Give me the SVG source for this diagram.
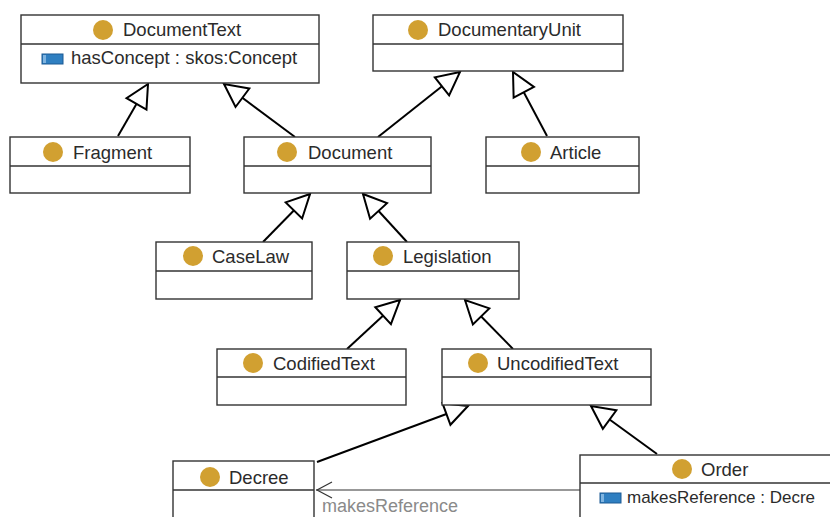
<svg xmlns="http://www.w3.org/2000/svg" width="830" height="517" viewBox="0 0 830 517">
<style>
.box{fill:#fff;stroke:#333;stroke-width:1.4}
.div{stroke:#333;stroke-width:1.4}
.dot{fill:#d1a031}
.lbl{font-family:"Liberation Sans",Arial,sans-serif;font-size:18.5px;fill:#2b2b2b}
.gen{stroke:#000;stroke-width:2;fill:none;marker-end:url(#tri)}
.assoc{stroke:#333;stroke-width:1.2;fill:none}
.alabel{font-family:"Liberation Sans",Arial,sans-serif;font-size:18px;fill:#8a8a8a}
.attr{fill:#2f7fc1;stroke:#1d5a93;stroke-width:1}
</style>
<defs>
<marker id="tri" markerUnits="userSpaceOnUse" viewBox="-2 -2 27 27" markerWidth="27" markerHeight="27" refX="23" refY="11.5" orient="auto">
<path d="M23,11.5 L0,0 L0,23 Z" fill="#fff" stroke="#000" stroke-width="2" stroke-linejoin="miter"/>
</marker>
</defs>
<rect width="830" height="517" fill="#fff"/>

<g id="connectors">
<line class="gen" x1="118" y1="136" x2="148" y2="84"/>
<line class="gen" x1="295" y1="137" x2="224" y2="84"/>
<line class="gen" x1="378" y1="137" x2="460" y2="72"/>
<line class="gen" x1="547" y1="136" x2="513" y2="72"/>
<line class="gen" x1="263" y1="242" x2="310" y2="194"/>
<line class="gen" x1="407" y1="242" x2="363" y2="194"/>
<line class="gen" x1="347" y1="349" x2="400" y2="300"/>
<line class="gen" x1="513" y1="349" x2="465" y2="300"/>
<line class="gen" x1="317" y1="462" x2="468" y2="406"/>
<line class="gen" x1="657" y1="454" x2="591" y2="406"/>
<g id="assoc-makesReference">
<line class="assoc" x1="580" y1="490" x2="316" y2="490"/>
<polyline class="assoc" points="332,482 317,490 332,498"/>
<text class="alabel" x="322" y="512">makesReference</text>
</g>
</g>

<g id="DocumentText">
<rect class="box" x="21" y="15" width="298" height="68"/>
<line class="div" x1="21" y1="44" x2="319" y2="44"/>
<circle class="dot" cx="103" cy="30" r="10"/>
<text class="lbl" x="123" y="36">DocumentText</text>
<rect class="attr" x="42" y="54" width="21" height="10"/>
<rect x="43" y="55" width="3" height="8" fill="#7fb4e0"/>
<text class="lbl" x="71" y="64">hasConcept : skos:Concept</text>
</g>

<g id="DocumentaryUnit">
<rect class="box" x="373" y="15" width="250" height="56"/>
<line class="div" x1="373" y1="44" x2="623" y2="44"/>
<circle class="dot" cx="418" cy="30" r="10"/>
<text class="lbl" x="438" y="36">DocumentaryUnit</text>
</g>

<g id="Fragment">
<rect class="box" x="10" y="137" width="180" height="56"/>
<line class="div" x1="10" y1="166" x2="190" y2="166"/>
<circle class="dot" cx="53" cy="152" r="10"/>
<text class="lbl" x="73" y="159">Fragment</text>
</g>

<g id="Document">
<rect class="box" x="244" y="137" width="187" height="56"/>
<line class="div" x1="244" y1="166" x2="431" y2="166"/>
<circle class="dot" cx="287" cy="152" r="10"/>
<text class="lbl" x="308" y="159">Document</text>
</g>

<g id="Article">
<rect class="box" x="486" y="137" width="153" height="56"/>
<line class="div" x1="486" y1="166" x2="639" y2="166"/>
<circle class="dot" cx="531" cy="152" r="10"/>
<text class="lbl" x="550" y="159">Article</text>
</g>

<g id="CaseLaw">
<rect class="box" x="156" y="242" width="156" height="57"/>
<line class="div" x1="156" y1="271" x2="312" y2="271"/>
<circle class="dot" cx="193" cy="256" r="10"/>
<text class="lbl" x="212" y="263">CaseLaw</text>
</g>

<g id="Legislation">
<rect class="box" x="347" y="242" width="172" height="57"/>
<line class="div" x1="347" y1="271" x2="519" y2="271"/>
<circle class="dot" cx="383" cy="256" r="10"/>
<text class="lbl" x="403" y="263">Legislation</text>
</g>

<g id="CodifiedText">
<rect class="box" x="217" y="349" width="189" height="56"/>
<line class="div" x1="217" y1="377" x2="406" y2="377"/>
<circle class="dot" cx="253" cy="363" r="10"/>
<text class="lbl" x="273" y="370">CodifiedText</text>
</g>

<g id="UncodifiedText">
<rect class="box" x="442" y="349" width="209" height="56"/>
<line class="div" x1="442" y1="377" x2="651" y2="377"/>
<circle class="dot" cx="478" cy="363" r="10"/>
<text class="lbl" x="497" y="370">UncodifiedText</text>
</g>

<g id="Decree">
<rect class="box" x="173" y="461" width="141" height="70"/>
<line class="div" x1="173" y1="490" x2="314" y2="490"/>
<circle class="dot" cx="210" cy="477" r="10"/>
<text class="lbl" x="229" y="484">Decree</text>
</g>

<g id="Order">
<rect class="box" x="580" y="455" width="262" height="80"/>
<line class="div" x1="580" y1="483" x2="842" y2="483"/>
<circle class="dot" cx="682" cy="469" r="10"/>
<text class="lbl" x="701" y="476">Order</text>
<rect class="attr" x="600" y="493" width="21" height="10"/>
<rect x="601" y="494" width="3" height="8" fill="#7fb4e0"/>
<text class="lbl" x="627" y="503" style="font-size:17px">makesReference : Decre</text>
</g>
</svg>
